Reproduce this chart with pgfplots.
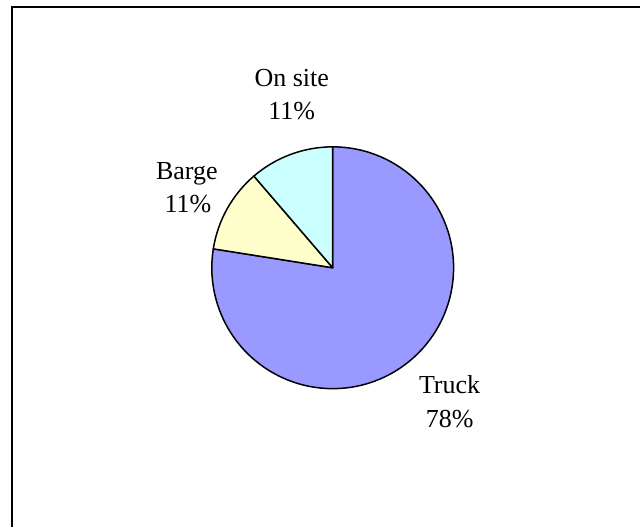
\documentclass[border=0pt]{standalone}
\usepackage{pgfplots}
\usepackage{pgfplotstable}
\pgfplotsset{compat=1.18}
\usepackage{fontspec}
\setmainfont{Liberation Serif}

\definecolor{truck}{HTML}{9999FF}
\definecolor{barge}{HTML}{FFFFCC}
\definecolor{onsite}{HTML}{CCFFFF}

% share of each mode, in percent
\pgfplotstableread{
label  value
Truck  77.5
Barge  11.2
Onsite 11.3
}\piedata

\begin{document}
\begin{tikzpicture}
\pgfplotstablegetelem{0}{value}\of\piedata \let\vTruck\pgfplotsretval
\pgfplotstablegetelem{1}{value}\of\piedata \let\vBarge\pgfplotsretval
\pgfmathsetmacro\angA{90-3.6*\vTruck}
\pgfmathsetmacro\angB{\angA-3.6*\vBarge}
\begin{axis}[
    width=641pt, height=527pt,
    scale only axis,
    hide axis,
    xmin=0, xmax=641,
    ymin=0, ymax=527,
    clip=false,
]
% whole canvas
\path (axis cs:0,0) rectangle (axis cs:641,527);
% frame
\draw[line width=1.2pt] (axis cs:12,0) -- (axis cs:12,520) -- (axis cs:641,520);
% slices, clockwise from 12 o'clock
\filldraw[fill=truck, line width=1.5pt, line join=round]
    (axis cs:333,259) -- ++(90:121pt) arc[start angle=90, end angle=\angA, radius=121pt] -- cycle;
\filldraw[fill=barge, line width=1.5pt, line join=round]
    (axis cs:333,259) -- ++(\angA:121pt) arc[start angle=\angA, end angle=\angB, radius=121pt] -- cycle;
\filldraw[fill=onsite, line width=1.5pt, line join=round]
    (axis cs:333,259) -- ++(\angB:121pt) arc[start angle=\angB, end angle=-270, radius=121pt] -- cycle;
% labels
\tikzset{lbl/.style={anchor=base, inner sep=0pt, font=\fontsize{26}{32}\selectfont}}
\node[lbl] at (axis cs:292,440) {On site};
\node[lbl] at (axis cs:292,407) {11\%};
\node[lbl] at (axis cs:187,347) {Barge};
\node[lbl] at (axis cs:188,314) {11\%};
\node[lbl] at (axis cs:450,133) {Truck};
\node[lbl] at (axis cs:450,99) {78\%};
\end{axis}
\end{tikzpicture}
\end{document}
